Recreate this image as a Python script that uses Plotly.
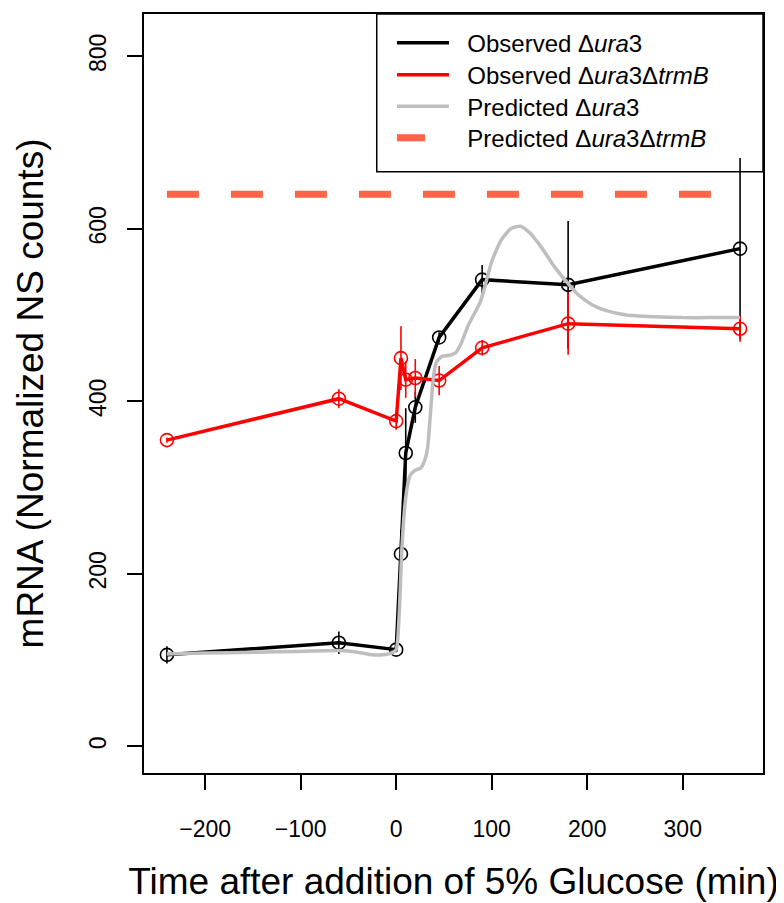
import plotly.graph_objects as go

# ---- data ----
time_obs = [-240, -60, 0, 5, 10, 20, 45, 90, 180, 360]
obs_ura3 = [106, 120, 112, 223, 340, 393, 474, 541, 535, 577]
obs_ura3_err = [10, 13, 3, 28, 52, 18, 6, 17, 74, 105]
obs_trmB = [355, 403, 377, 450, 425, 427, 424, 462, 490, 484]
obs_trmB_err = [3, 11, 10, 37, 21, 22, 17, 9, 36, 15]

time_pred = [-240, -200, -150, -100, -60, -40, -25, -15, -5, 0, 3, 6, 9, 12, 15, 20, 26, 30, 33,
             36, 39, 42, 48, 55, 62, 68, 75, 82, 88, 95, 100, 110, 120, 130, 140, 153,
             165, 178, 190, 205, 220, 241, 270, 300, 330, 360]
pred_ura3 = [107, 108, 109, 110, 111, 109, 106, 106, 108, 112, 150, 230, 278, 303, 315, 320, 323, 332, 347,
             388, 428, 445, 452, 453, 456, 467, 487, 502, 515, 542, 562, 587, 600, 603, 595, 577,
             557, 539, 524, 512, 505, 500, 498, 497, 497, 497]
pred_trmB_level = 640
pred_trmB_x = [-240, 360]

legend_labels = ["Observed Δ<i>ura</i>3", "Observed Δ<i>ura</i>3Δ<i>trmB</i>",
                 "Predicted Δ<i>ura</i>3", "Predicted Δ<i>ura</i>3Δ<i>trmB</i>"]

x_ticks = [-200, -100, 0, 100, 200, 300]
x_tick_text = ["\u2212200", "\u2212100", "0", "100", "200", "300"]
y_ticks = [0, 200, 400, 600, 800]

FONT = "Liberation Sans, Arial, Helvetica, sans-serif"
BLACK = "#000000"
RED = "#FF0000"
GREY = "#BEBEBE"
TOMATO = "#FF6347"

fig = go.Figure()

fig.add_trace(go.Scatter(
    x=time_obs, y=obs_ura3, mode="lines+markers",
    line=dict(color=BLACK, width=3.5),
    marker=dict(symbol="circle-open", size=13, color=BLACK, line=dict(width=1.6, color=BLACK)),
    error_y=dict(type="data", array=obs_ura3_err, visible=True, width=0, thickness=1.6, color=BLACK),
    showlegend=False))

fig.add_trace(go.Scatter(
    x=time_obs, y=obs_trmB, mode="lines+markers",
    line=dict(color=RED, width=3.5),
    marker=dict(symbol="circle-open", size=13, color=RED, line=dict(width=1.6, color=RED)),
    error_y=dict(type="data", array=obs_trmB_err, visible=True, width=0, thickness=1.6, color=RED),
    showlegend=False))

fig.add_trace(go.Scatter(
    x=time_pred, y=pred_ura3, mode="lines", line=dict(color=GREY, width=3.5, shape="spline", smoothing=0.6),
    showlegend=False))

fig.add_trace(go.Scatter(
    x=pred_trmB_x, y=[pred_trmB_level] * len(pred_trmB_x), mode="lines",
    line=dict(color=TOMATO, width=7, dash="32px,32px"), showlegend=False))

# one legend per entry so the row spacing can match the reference
leg_styles = [dict(color=BLACK, width=3.5), dict(color=RED, width=3.5),
              dict(color=GREY, width=3.5), dict(color=TOMATO, width=7, dash="28px,40px")]
leg_names = ["legend", "legend2", "legend3", "legend4"]
leg_y = [0.9911, 0.949, 0.9076, 0.8662]
for lab, st, ln in zip(legend_labels, leg_styles, leg_names):
    fig.add_trace(go.Scatter(x=[None], y=[None], mode="lines", line=st,
                             name="\u00a0\u00a0" + lab, legend=ln, showlegend=True))

leg_common = dict(x=0.4006, xanchor="left", yanchor="top", bgcolor="rgba(0,0,0,0)", borderwidth=0,
                  font=dict(family=FONT, size=24), itemwidth=52)

fig.update_layout(
    width=784, height=903,
    margin=dict(l=136, r=29, t=4, b=138),
    paper_bgcolor="white", plot_bgcolor="white",
    font=dict(family=FONT, color="black", size=23),
    legend=dict(y=leg_y[0], **leg_common),
    legend2=dict(y=leg_y[1], **leg_common),
    legend3=dict(y=leg_y[2], **leg_common),
    legend4=dict(y=leg_y[3], **leg_common),
    shapes=[dict(type="rect", xref="paper", yref="paper", x0=0.376, x1=1, y0=0.792, y1=1,
                 line=dict(color="black", width=1.5), fillcolor="rgba(0,0,0,0)")],
)

fig.update_xaxes(
    range=[-264, 384], tickvals=x_ticks, ticktext=x_tick_text,
    showgrid=False, zeroline=False, showline=True, linecolor="black", linewidth=1.5, mirror=True,
    ticks="outside", ticklen=15, tickwidth=1.5, tickcolor="black", ticklabelstandoff=20,
    tickfont=dict(size=23, family=FONT),
    title=dict(text="Time after addition of 5% Glucose (min)", font=dict(size=37, family=FONT), standoff=27),
)
fig.update_yaxes(
    range=[-31, 849], tickvals=y_ticks, tickangle=-90,
    showgrid=False, zeroline=False, showline=True, linecolor="black", linewidth=1.5, mirror=True,
    ticks="outside", ticklen=15, tickwidth=1.5, tickcolor="black", ticklabelstandoff=12,
    tickfont=dict(size=23, family=FONT),
    title=dict(text="mRNA (Normalized NS counts)", font=dict(size=37, family=FONT), standoff=30),
)

fig.write_html("out.html")
